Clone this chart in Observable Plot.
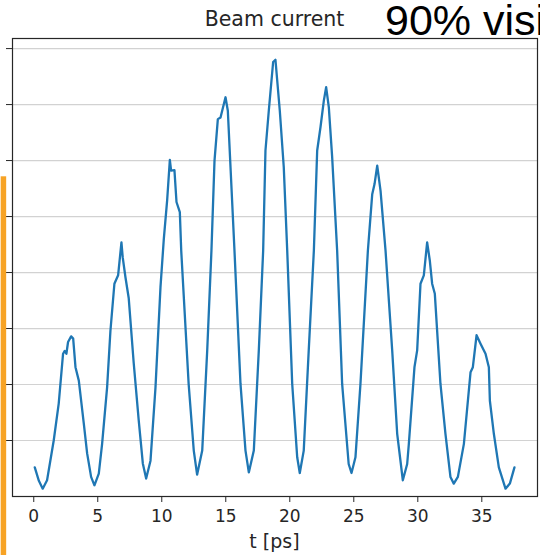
<!DOCTYPE html>
<html>
<head>
<meta charset="utf-8">
<script src="https://cdn.jsdelivr.net/npm/d3@7"></script>
<script src="https://cdn.jsdelivr.net/npm/@observablehq/plot@0.6"></script>
<style>
  html, body { margin: 0; padding: 0; background: white; overflow: hidden; }
  svg { display: block; }
</style>
</head>
<body>
<div id="chart"></div>
<script>
// time [ps]
const tValues = [
  0.08, 0.40, 0.70, 1.04, 1.56, 1.95, 2.29, 2.42, 2.55, 2.68, 2.92, 3.08, 3.26, 3.52, 3.91, 4.17, 4.48, 4.74,
  5.08, 5.34, 5.73, 5.99, 6.30, 6.59, 6.85, 6.95, 7.16, 7.42, 7.81, 8.20, 8.52, 8.78,
  9.12, 9.51, 9.90, 10.16, 10.42, 10.63, 10.73, 10.99, 11.15, 11.41, 11.52, 12.10, 12.50, 12.76,
  13.16, 13.55, 13.88, 14.12, 14.38, 14.59, 14.98, 15.16, 15.37, 15.68, 16.15, 16.54, 16.80,
  17.19, 17.58, 17.92, 18.10, 18.36, 18.70, 18.88, 19.22, 19.53, 19.80, 20.19, 20.58, 20.78,
  21.09, 21.48, 21.88, 22.14, 22.40, 22.66, 22.84, 23.05, 23.31, 23.70, 24.09, 24.60, 24.82,
  25.13, 25.52, 26.10, 26.44, 26.62, 26.83, 27.09, 27.48, 28.00, 28.39, 28.83,
  29.17, 29.30, 29.74, 29.95, 30.21, 30.47, 30.73, 30.94, 31.12, 31.33, 31.77, 32.16, 32.55, 32.81,
  33.13, 33.60, 34.12, 34.30, 34.59, 34.90, 35.29, 35.55, 35.63, 35.94, 36.33, 36.85, 37.19, 37.55
];
// beam current (arbitrary units; gridlines at integers)
const currentValues = [
  0.52, 0.28, 0.14, 0.29, 1.00, 1.66, 2.55, 2.60, 2.55, 2.76, 2.86, 2.82, 2.31, 2.07, 1.30, 0.77, 0.35, 0.20,
  0.41, 0.94, 1.95, 2.96, 3.80, 3.95, 4.54, 4.27, 3.92, 3.54, 2.38, 1.36, 0.59, 0.32,
  0.64, 1.95, 3.74, 4.60, 5.29, 6.01, 5.82, 5.83, 5.26, 5.08, 4.39, 2.01, 0.82, 0.39,
  0.82, 2.61, 4.39, 6.00, 6.74, 6.77, 7.13, 6.89, 5.88, 4.39, 2.01, 0.82, 0.43,
  0.82, 2.61, 4.39, 6.18, 6.89, 7.76, 7.80, 6.89, 5.88, 4.39, 2.01, 0.70, 0.42,
  0.82, 2.61, 4.39, 6.18, 6.60, 7.07, 7.31, 6.95, 6.06, 4.39, 2.01, 0.58, 0.42,
  0.70, 2.01, 4.39, 5.40, 5.58, 5.91, 5.46, 4.39, 2.61, 1.12, 0.29,
  0.58, 0.94, 2.31, 2.61, 3.80, 3.95, 4.54, 4.21, 3.80, 3.62, 2.01, 1.12, 0.35, 0.23,
  0.35, 0.94, 2.22, 2.31, 2.88, 2.73, 2.55, 2.31, 1.71, 1.12, 0.52, 0.14, 0.23, 0.52
];
const xTicks = [0, 5, 10, 15, 20, 25, 30, 35];
const yTicks = [1, 2, 3, 4, 5, 6, 7, 8];
const titleText = "Beam current";
const sideText = "90% visibility";
const xLabel = "t [ps]";
// orange bar belonging to a neighbouring panel (x position, top in y units); it runs to the bottom edge
const orangeBar = [{x: -2.33, y1: 5.71}];

const data = tValues.map((t, i) => ({t, v: currentValues[i]}));

const W = 540, H = 555;
const plot = Plot.plot({
  width: W,
  height: H,
  marginLeft: 12,
  marginRight: 3,
  marginTop: 38,
  marginBottom: 59,
  x: {domain: [-1.66, 39.35]},
  y: {domain: [0, 8.18]},
  style: {fontFamily: "DejaVu Sans", fontSize: "17px", color: "#262626"},
  marks: [
    Plot.gridY(yTicks, {stroke: "#d2d2d2", strokeOpacity: 1, strokeWidth: 1.2}),
    Plot.line(data, {x: "t", y: "v", stroke: "#1f77b4", strokeWidth: 2.3, strokeLinejoin: "round"}),
    Plot.frame({stroke: "#262626", strokeWidth: 1.2}),
    Plot.axisX(xTicks, {tickSize: 6, tickPadding: 7, label: null, fontSize: 17}),
    Plot.axisY(yTicks, {tickSize: 6, tickFormat: () => "", label: null})
  ]
});

const xs = plot.scale("x"), ys = plot.scale("y");
const svg = d3.select(plot);
svg.append("text")
  .attr("x", 274.5).attr("y", 26)
  .attr("text-anchor", "middle")
  .attr("font-family", "DejaVu Sans")
  .attr("font-size", 20.5)
  .attr("fill", "#262626")
  .text(titleText);
svg.append("text")
  .attr("x", 385).attr("y", 35)
  .attr("text-anchor", "start")
  .attr("font-family", "Liberation Sans, Arial, sans-serif")
  .attr("font-size", 43)
  .attr("fill", "#000")
  .text(sideText);
svg.append("text")
  .attr("x", 274.5).attr("y", 548)
  .attr("text-anchor", "middle")
  .attr("font-family", "DejaVu Sans")
  .attr("font-size", 19)
  .attr("fill", "#262626")
  .text(xLabel);
// orange bar, drawn last so nothing covers it
svg.append("g").selectAll("rect").data(orangeBar).join("rect")
  .attr("x", d => xs.apply(d.x) - 2.75)
  .attr("width", 5.5)
  .attr("y", d => ys.apply(d.y1))
  .attr("height", d => H - ys.apply(d.y1))
  .attr("fill", "#f7a325");

document.getElementById("chart").appendChild(plot);
</script>
</body>
</html>
